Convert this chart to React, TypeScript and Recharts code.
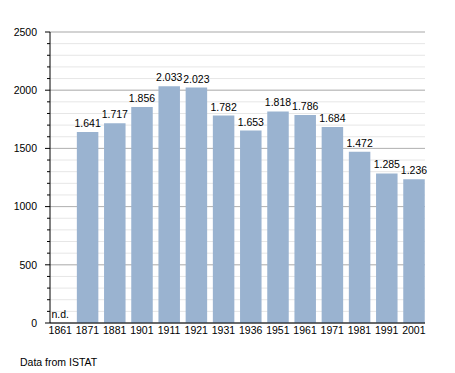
import React from 'react';
import {
  BarChart,
  Bar,
  XAxis,
  YAxis,
  CartesianGrid,
  LabelList,
  ReferenceDot,
} from 'recharts';

const YEARS = ['1861', '1871', '1881', '1901', '1911', '1921', '1931', '1936', '1951', '1961', '1971', '1981', '1991', '2001'];
const POPULATION: (number | null)[] = [null, 1641, 1717, 1856, 2033, 2023, 1782, 1653, 1818, 1786, 1684, 1472, 1285, 1236];
const Y_TICKS = [0, 100, 200, 300, 400, 500, 600, 700, 800, 900, 1000, 1100, 1200, 1300, 1400, 1500, 1600, 1700, 1800, 1900, 2000, 2100, 2200, 2300, 2400, 2500];
const Y_MAJOR = [0, 500, 1000, 1500, 2000, 2500];
const NA_TEXT = 'n.d.';
const SOURCE = 'Data from ISTAT';

const data = YEARS.map((year, i) => ({ year, value: POPULATION[i] }));
const naYears = data.filter((d) => d.value == null).map((d) => d.year);

const FONT = '"Liberation Sans", Arial, Helvetica, sans-serif';
const FS = 10.5;
const BAR_COLOR = '#9ab3d0';

const fmt = (v: any) => {
  if (v == null || v === '') return '';
  const n = Number(v);
  const th = Math.floor(n / 1000);
  const rest = n % 1000;
  return th > 0 ? `${th}.${String(rest).padStart(3, '0')}` : String(rest);
};

const YTick = (props: any) => {
  const { x, y, payload } = props;
  const v = payload.value;
  const major = Y_MAJOR.includes(v);
  return (
    <g>
      <line x1={x - (major ? 5 : 3)} x2={x} y1={y} y2={y} stroke="#000" strokeWidth={1} />
      {major && (
        <text x={x - 13} y={y} dy="0.355em" textAnchor="end" fontSize={FS} fill="#000" fontFamily={FONT}>
          {v}
        </text>
      )}
    </g>
  );
};

export default function App() {
  return (
    <div
      style={{
        position: 'absolute',
        left: 0,
        top: 0,
        width: 455,
        height: 373,
        background: '#fff',
        fontFamily: FONT,
      }}
    >
      <BarChart
        width={455}
        height={373}
        data={data}
        margin={{ top: 32, right: 30, bottom: 20, left: 0 }}
        barCategoryGap={0}
      >
        <CartesianGrid vertical={false} horizontalValues={Y_TICKS} stroke="#e6e6e6" />
        <CartesianGrid vertical={false} horizontalValues={Y_MAJOR} stroke="#b3b3b3" />
        <XAxis
          dataKey="year"
          interval={0}
          tickLine={false}
          tickSize={2}
          tickMargin={2}
          height={30}
          axisLine={{ stroke: '#000', strokeWidth: 1 }}
          tick={{ fontSize: FS, fill: '#000', fontFamily: FONT }}
          padding={{ left: -3.35, right: -2.45 }}
        />
        <YAxis
          width={50}
          domain={[0, 2500]}
          ticks={Y_TICKS}
          interval={0}
          tickLine={false}
          tickSize={0}
          tickMargin={0}
          axisLine={{ stroke: '#000', strokeWidth: 1 }}
          tick={<YTick />}
        />
        <Bar dataKey="value" fill={BAR_COLOR} barSize={21.5} isAnimationActive={false}>
          <LabelList
            dataKey="value"
            position="top"
            offset={5}
            formatter={fmt}
            style={{ fontSize: FS, fill: '#000', fontFamily: FONT }}
          />
        </Bar>
        {naYears.map((yr) => (
          <ReferenceDot
            key={yr}
            x={yr}
            y={0}
            r={0}
            fill="none"
            stroke="none"
            ifOverflow="visible"
            label={{ value: NA_TEXT, position: 'top', offset: 5, fontSize: FS, fill: '#000', fontFamily: FONT }}
          />
        ))}
      </BarChart>
      <div
        style={{
          position: 'absolute',
          left: 20,
          top: 357,
          fontSize: FS,
          lineHeight: '10px',
          color: '#000',
          whiteSpace: 'nowrap',
        }}
      >
        {SOURCE}
      </div>
    </div>
  );
}
